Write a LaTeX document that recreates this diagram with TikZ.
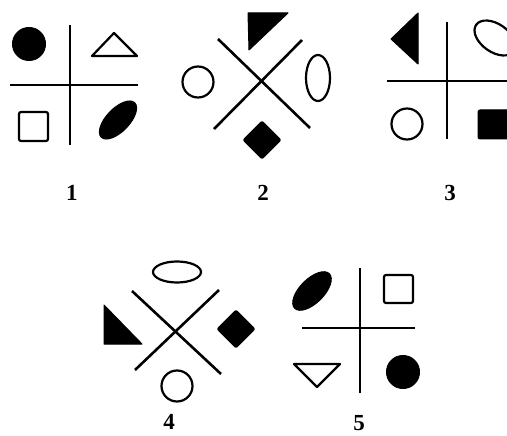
\documentclass[tikz,border=0pt]{standalone}
\usepackage{fontspec}
\setmainfont{Liberation Serif}
\usetikzlibrary{positioning}
\tikzset{
  bar/.style={line width=2.6pt, line cap=butt},
  hollow/.style={draw=black, line width=2.2pt, line join=round},
  blackfill/.style={fill=black, draw=black, line width=1pt, line join=round},
  rnd/.style={rounded corners=2pt},
  numlbl/.style={font=\fontsize{23}{23}\selectfont\bfseries, inner sep=0pt}
}

\begin{document}
\begin{tikzpicture}[x=1pt,y=-1pt]
\clip (0,0) rectangle (507,436);
\fill[white] (0,0) rectangle (507,436);
% figure 1
\draw[bar] (70,25) -- (70,145);
\draw[bar] (10,85) -- (138,85);
\fill[blackfill] (29,44) circle [radius=16.5];
\draw[hollow] (92,56) -- (114,33) -- (137,56) -- cycle;
\draw[hollow, rnd] (19,112) rectangle (48,141);
\fill[blackfill, rotate around={46:(118,120)}] (118,120) ellipse [x radius=24, y radius=11.5];
\node[numlbl] (n1) at (72,193) {1};
% figure 2
\draw[bar] (218,39) -- (310,128);
\draw[bar] (302,40) -- (214,129);
\fill[blackfill] (248,13) -- (288,13) -- (249,50) -- cycle;
\draw[hollow] (198,82) circle [radius=15.5];
\draw[hollow] (318,78) ellipse [x radius=12, y radius=23];
\fill[blackfill, rnd] (262,121) -- (281,140) -- (262,159) -- (243,140) -- cycle;
\node[numlbl] (n2) at (263,193) {2};
% figure 3
\draw[bar] (447,22) -- (447,139);
\draw[bar] (387,81) -- (510,81);
\fill[blackfill] (418,13) -- (418,64) -- (391,39) -- cycle;
\draw[hollow, rotate around={-35:(495,38)}] (495,38) ellipse [x radius=23, y radius=14];
\draw[hollow] (407,124) circle [radius=15.5];
\fill[blackfill, rnd] (478,110) rectangle (509,139);
\node[numlbl] (n3) at (450,193) {3};
% figure 4
\draw[bar] (132,291) -- (221,374);
\draw[bar] (219,290) -- (135,370);
\draw[hollow] (177,272) ellipse [x radius=24, y radius=10.5];
\fill[blackfill] (104,305) -- (104,344) -- (142,344) -- cycle;
\fill[blackfill, rnd] (236,310) -- (255,329) -- (236,348) -- (217,329) -- cycle;
\draw[hollow] (177,386) circle [radius=15.5];
\node[numlbl] (n4) at (169,422) {4};
% figure 5
\draw[bar] (360,268) -- (360,393);
\draw[bar] (302,328) -- (415,328);
\fill[blackfill, rotate around={45:(312,291)}] (312,291) ellipse [x radius=24.5, y radius=12];
\draw[hollow, rnd] (384,275) rectangle (413,303);
\draw[hollow] (294,364) -- (340,364) -- (317,387) -- cycle;
\fill[blackfill] (403,372) circle [radius=16.5];
\node[numlbl] (n5) at (359,423) {5};
\end{tikzpicture}
\end{document}
